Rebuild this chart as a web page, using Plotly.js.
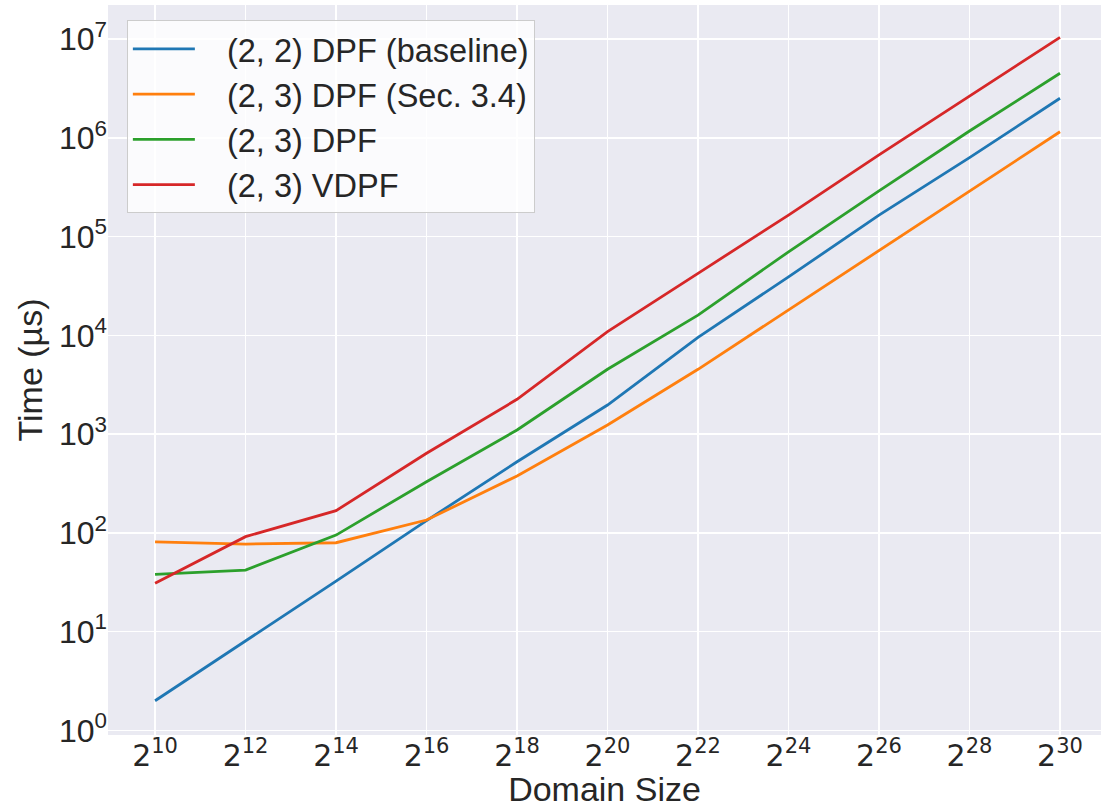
<!DOCTYPE html>
<html>
<head>
<meta charset="utf-8">
<script src="https://cdn.plot.ly/plotly-3.0.1.min.js"></script>
<style>html,body{margin:0;padding:0;background:#fff;}#chart{width:1101px;height:808px;}</style>
</head>
<body>
<div id="chart"></div>
<script>
// Domain size exponents (domain size = 2^exp)
const exponents = [10, 12, 14, 16, 18, 20, 22, 24, 26, 28, 30];
const xTickLabels = ["2<sup>10</sup>","2<sup>12</sup>","2<sup>14</sup>","2<sup>16</sup>","2<sup>18</sup>","2<sup>20</sup>","2<sup>22</sup>","2<sup>24</sup>","2<sup>26</sup>","2<sup>28</sup>","2<sup>30</sup>"];
const yTickVals = [1, 10, 100, 1000, 10000, 100000, 1000000, 10000000];
const yTickLabels = ["10<sup>0</sup>","10<sup>1</sup>","10<sup>2</sup>","10<sup>3</sup>","10<sup>4</sup>","10<sup>5</sup>","10<sup>6</sup>","10<sup>7</sup>"];

const seriesNames = ["(2, 2) DPF (baseline)", "(2, 3) DPF (Sec. 3.4)", "(2, 3) DPF", "(2, 3) VDPF"];
const baselineDPF = [2.0, 8.0, 32.5, 133, 525, 1970, 9550, 39000, 165000, 630000, 2510000];
const dpfSec34   = [81, 77, 79.5, 135, 377, 1236, 4530, 18000, 73000, 290000, 1150000];
const dpf23      = [38, 42, 95, 330, 1100, 4530, 16000, 70000, 290000, 1170000, 4500000];
const vdpf23     = [31, 91.6, 168, 640, 2250, 10900, 42400, 165000, 670000, 2650000, 10400000];
const colors = ["#1f77b4", "#ff7f0e", "#2ca02c", "#d62728"];

const domainSizes = exponents.map(e => Math.pow(2, e));
const allSeries = [baselineDPF, dpfSec34, dpf23, vdpf23];
const gap = "\u00a0\u00a0\u00a0";

const traces = allSeries.map((ys, i) => ({
  x: domainSizes,
  y: ys,
  type: "scatter",
  mode: "lines",
  name: gap + seriesNames[i],
  line: {color: colors[i], width: 2.8}
}));

const L2 = Math.log10(2);
const layout = {
  width: 1101,
  height: 808,
  margin: {l: 108, r: 0, t: 5, b: 73},
  paper_bgcolor: "#ffffff",
  plot_bgcolor: "#eaeaf2",
  font: {family: "Liberation Sans, Arial, sans-serif", color: "#262626", size: 32},
  showlegend: true,
  legend: {
    x: 0.019, y: 0.979, xanchor: "left", yanchor: "top",
    bgcolor: "rgba(255,255,255,0.8)",
    bordercolor: "#cccccc",
    borderwidth: 1,
    font: {family: "Liberation Sans, Arial, sans-serif", size: 32.5, color: "#262626"},
    itemwidth: 62
  },
  xaxis: {
    type: "log",
    range: [8.96 * L2, 30.906 * L2],
    tickvals: domainSizes,
    ticktext: xTickLabels,
    tickfont: {family: "DejaVu Sans, sans-serif", size: 30, color: "#262626"},
    showgrid: true, gridcolor: "#ffffff", gridwidth: 1.6,
    zeroline: false, showline: false,
    ticks: "",
    title: {text: "Domain Size", font: {size: 34, family: "Liberation Sans, Arial, sans-serif", color: "#262626"}, standoff: 11}
  },
  yaxis: {
    type: "log",
    range: [-0.046, 7.344],
    tickvals: yTickVals,
    ticktext: yTickLabels,
    tickfont: {family: "Liberation Sans, Arial, sans-serif", size: 32, color: "#262626"},
    showgrid: true, gridcolor: "#ffffff", gridwidth: 1.6,
    zeroline: false, showline: false,
    ticks: "",
    title: {text: "Time (µs)", font: {size: 34, family: "Liberation Sans, Arial, sans-serif", color: "#262626"}, standoff: 6}
  }
};

Plotly.newPlot("chart", traces, layout, {displayModeBar: false, staticPlot: true});
</script>
</body>
</html>
